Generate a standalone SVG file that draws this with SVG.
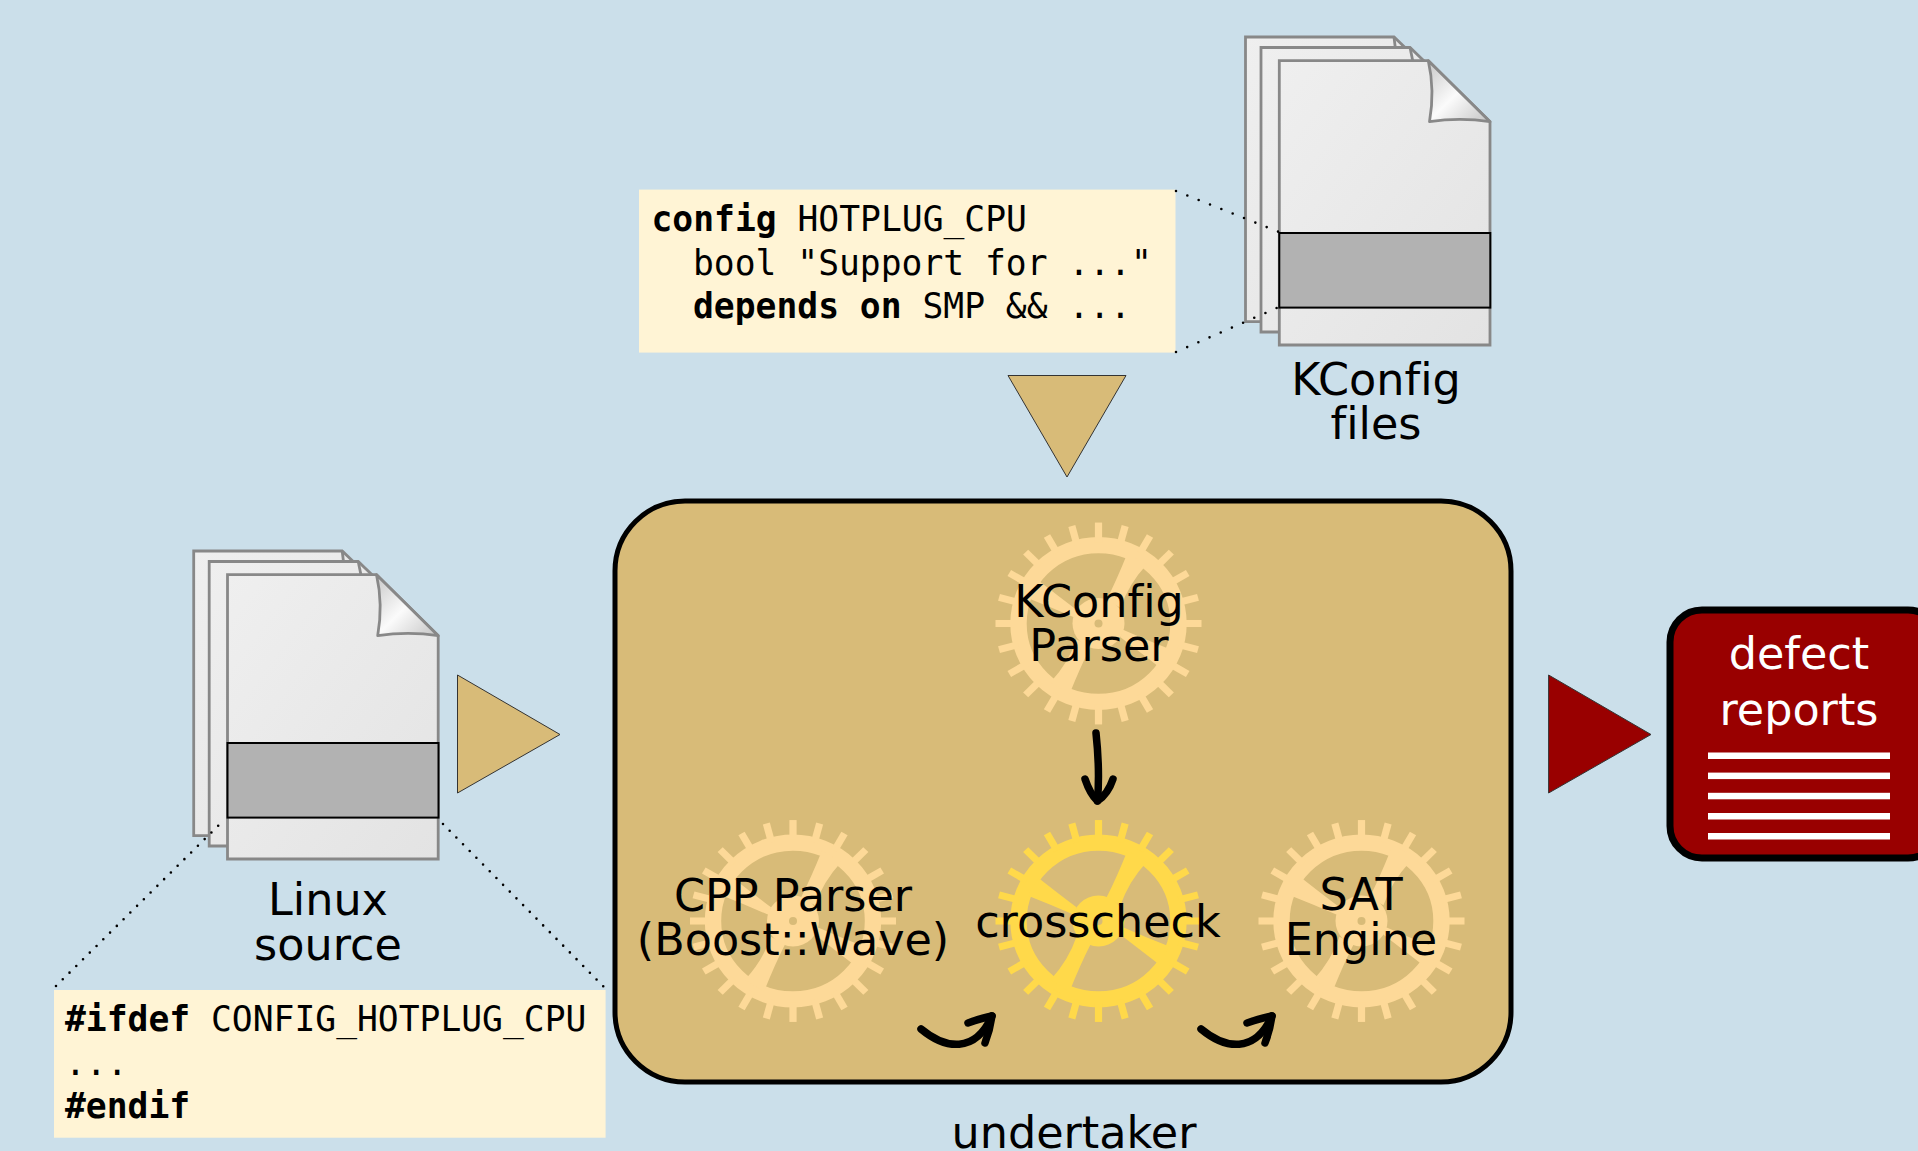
<svg xmlns="http://www.w3.org/2000/svg" xmlns:xlink="http://www.w3.org/1999/xlink" width="1918" height="1151" viewBox="0 0 1918 1151">
<style>
.lbl{font-family:"DejaVu Sans",sans-serif;font-size:44.5px;text-anchor:middle;fill:#000;font-variant-ligatures:none}
.mono{font-family:"DejaVu Sans Mono",monospace;font-size:34.65px;fill:#000;white-space:pre;font-variant-ligatures:none}
.b{font-weight:bold}
.note{fill:#fff4d5}
.page{stroke:#888;stroke-width:2.8;fill:url(#pg)}
.band{fill:#b2b2b2;stroke:#000;stroke-width:2}
.dots{fill:none;stroke:#000;stroke-width:2.6;stroke-linecap:round;stroke-dasharray:0 12.2}
.dots2{stroke-dasharray:0 9.5}
.flow{fill:none;stroke:#000;stroke-width:7.5;stroke-linecap:round;stroke-linejoin:round}
.tri{stroke:#333;stroke-width:1;fill:#d8bb78}
.rl{fill:#fff}
</style>
<defs>
<linearGradient id="pg" x1="0" y1="0" x2="1" y2="1"><stop offset="0" stop-color="#efefef"/><stop offset="1" stop-color="#e3e3e3"/></linearGradient>
<linearGradient id="fold" x1="0" y1="0" x2="1" y2="1"><stop offset="0" stop-color="#c8c8c8"/><stop offset="0.5" stop-color="#fbfbfb"/><stop offset="1" stop-color="#c4c4c4"/></linearGradient>
<g id="tooth"><rect x="-3.6" y="-103" width="7.2" height="20"/></g>
<g id="gear">
<circle r="80" fill="none" stroke="currentColor" stroke-width="16.4"/>
<use xlink:href="#tooth"/><use xlink:href="#tooth" transform="rotate(15)"/><use xlink:href="#tooth" transform="rotate(30)"/><use xlink:href="#tooth" transform="rotate(45)"/><use xlink:href="#tooth" transform="rotate(60)"/><use xlink:href="#tooth" transform="rotate(75)"/><use xlink:href="#tooth" transform="rotate(90)"/><use xlink:href="#tooth" transform="rotate(105)"/><use xlink:href="#tooth" transform="rotate(120)"/><use xlink:href="#tooth" transform="rotate(135)"/><use xlink:href="#tooth" transform="rotate(150)"/><use xlink:href="#tooth" transform="rotate(165)"/><use xlink:href="#tooth" transform="rotate(180)"/><use xlink:href="#tooth" transform="rotate(195)"/><use xlink:href="#tooth" transform="rotate(210)"/><use xlink:href="#tooth" transform="rotate(225)"/><use xlink:href="#tooth" transform="rotate(240)"/><use xlink:href="#tooth" transform="rotate(255)"/><use xlink:href="#tooth" transform="rotate(270)"/><use xlink:href="#tooth" transform="rotate(285)"/><use xlink:href="#tooth" transform="rotate(300)"/><use xlink:href="#tooth" transform="rotate(315)"/><use xlink:href="#tooth" transform="rotate(330)"/><use xlink:href="#tooth" transform="rotate(345)"/>
<circle r="26"/>
<path d="M8,-24 Q18,-44 29,-72 L48,-60 Q30,-40 22,-16 Z"/>
<path d="M-8,24 Q-18,44 -29,72 L-48,60 Q-30,40 -22,16 Z"/>
<path d="M-22,-14 Q-40,-28 -60,-44 L-71,-26 Q-46,-16 -24,-6 Z"/>
<path d="M22,14 Q40,28 60,44 L71,26 Q46,16 24,6 Z"/>
<circle r="4" fill="#d8bb78"/>
</g>
<g id="docs">
<path class="page" d="M1245.5,37 H1394 L1470,110 V321.7 H1245.5 Z"/>
<path d="M1394,37 L1397,62" stroke="#888" stroke-width="2.8" fill="#ddd"/>
<path class="page" d="M1261,47.5 H1410 L1480,115 V332 H1261 Z"/>
<path d="M1410,47.5 L1413,62" stroke="#888" stroke-width="2.8" fill="none"/>
<path class="page" d="M1279.3,60.7 H1428.3 L1490,121.7 V345 H1279.3 Z"/>
<path d="M1428.3,60.7 Q1435,90 1429.5,121.7 Q1460,117 1490,121.7 Z" fill="url(#fold)" stroke="#888" stroke-width="2.8" stroke-linejoin="round"/>
</g>
</defs>
<rect width="1918" height="1151" fill="#cbdfea"/>

<g id="kconfig-files">
<use xlink:href="#docs"/>
<rect class="band" x="1279.3" y="233" width="211" height="74.6"/>
<text class="lbl" x="1376" y="395">KConfig</text>
<text class="lbl" x="1376" y="439">files</text>
</g>
<g id="linux-source">
<use xlink:href="#docs" transform="translate(-1051.8 514)"/>
<rect class="band" x="227.5" y="743" width="211" height="74.6"/>
<text class="lbl" x="328" y="915">Linux</text>
<text class="lbl" x="328" y="960">source</text>
</g>
<g id="kconfig-note">
<rect class="note" x="639" y="189.6" width="536.5" height="163"/>
<text class="mono" x="651.5" y="231"><tspan class="b">config</tspan> HOTPLUG_CPU</text>
<text class="mono" x="693" y="275">bool "Support for ..."</text>
<text class="mono" x="693" y="318"><tspan class="b">depends on</tspan> SMP &amp;&amp; ...</text>
</g>
<g id="ifdef-note">
<rect class="note" x="54" y="990" width="551.6" height="147.7"/>
<text class="mono" x="65" y="1031"><tspan class="b">#ifdef</tspan> CONFIG_HOTPLUG_CPU</text>
<text class="mono" x="65" y="1075">...</text>
<text class="mono b" x="65" y="1118">#endif</text>
</g>
<g id="undertaker">
<rect x="615" y="501" width="896" height="581" rx="70" ry="70" fill="#d8bb78" stroke="#000" stroke-width="5"/>
<text class="lbl" x="1074" y="1148">undertaker</text>
</g>
<g id="kconfig-parser">
<use xlink:href="#gear" transform="translate(1098.5 623.5) scale(1 .98)" color="#fdd998" fill="#fdd998"/>
<text class="lbl" x="1099" y="617">KConfig</text>
<text class="lbl" x="1099" y="661">Parser</text>
</g>
<g id="cpp-parser">
<use xlink:href="#gear" transform="translate(793 921) scale(1 .98)" color="#fdd998" fill="#fdd998"/>
<text class="lbl" x="793" y="911">CPP Parser</text>
<text class="lbl" x="793" y="955">(Boost::Wave)</text>
</g>
<g id="crosscheck">
<use xlink:href="#gear" transform="translate(1098.5 921) scale(1 .98)" color="#ffd94a" fill="#ffd94a"/>
<text class="lbl" x="1098" y="937">crosscheck</text>
</g>
<g id="sat-engine">
<use xlink:href="#gear" transform="translate(1361.5 921) scale(1 .98)" color="#fdd998" fill="#fdd998"/>
<text class="lbl" x="1361" y="910">SAT</text>
<text class="lbl" x="1361" y="955">Engine</text>
</g>
<g id="defect-reports">
<rect x="1670" y="610" width="270" height="248" rx="32" ry="32" fill="#990000" stroke="#000" stroke-width="7"/>
<text class="lbl" x="1799" y="669" style="fill:#fff">defect</text>
<text class="lbl" x="1799" y="725" style="fill:#fff">reports</text>
<rect class="rl" x="1708" y="752.5" width="182" height="6.5"/>
<rect class="rl" x="1708" y="772.6" width="182" height="6.5"/>
<rect class="rl" x="1708" y="792.8" width="182" height="6.5"/>
<rect class="rl" x="1708" y="813" width="182" height="6.5"/>
<rect class="rl" x="1708" y="833" width="182" height="6.5"/>
</g>
<g id="connectors">
<path class="dots" d="M1176,191 L1279,232"/>
<path class="dots" d="M1176,352 L1279,307"/>
<path class="dots dots2" d="M56,986 L224,820"/>
<path class="dots dots2" d="M443,824 L605,988"/>
<path class="tri" d="M1008,375.5 H1126 L1067,477 Z"/>
<path class="tri" d="M457.5,675 V793 L560,734.5 Z"/>
<path class="tri" d="M1548.6,675 V793 L1651,734.5 Z" style="fill:#990000"/>
<path class="flow" d="M1096,733 Q1100,770 1097.5,801"/>
<path class="flow" d="M1085,779 Q1090,794 1097.5,801 Q1108,794 1113,779"/>
<path class="flow" d="M921,1029 C945,1049 975,1054 992,1016"/>
<path class="flow" d="M968,1023 Q982,1018 992,1016 Q990,1030 985,1043"/>
<path class="flow" d="M1201,1029 C1225,1049 1255,1054 1272,1016"/>
<path class="flow" d="M1247,1023 Q1262,1018 1272,1016 Q1270,1030 1265,1043"/>
</g>
</svg>
